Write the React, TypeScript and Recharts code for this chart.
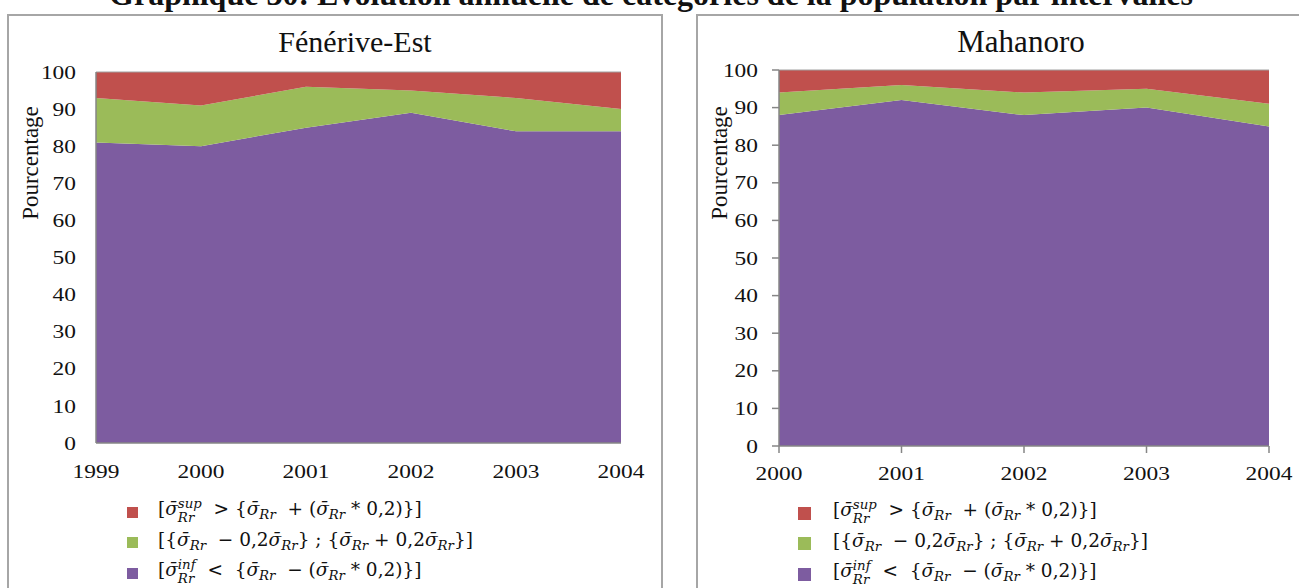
import React from 'react';
import { AreaChart, Area, XAxis, YAxis, ReferenceLine } from 'recharts';

// Fénérive-Est
const years1 = ['1999', '2000', '2001', '2002', '2003', '2004'];
const inf1 = [81, 80, 85, 89, 84, 84];
const mid1 = [12, 11, 11, 6, 9, 6];
const sup1 = [7, 9, 4, 5, 7, 10];

// Mahanoro
const years2 = ['2000', '2001', '2002', '2003', '2004'];
const inf2 = [88, 92, 88, 90, 85];
const mid2 = [6, 4, 6, 5, 6];
const sup2 = [6, 4, 6, 5, 9];

const yTicks = [0, 10, 20, 30, 40, 50, 60, 70, 80, 90, 100];

const mainTitle = 'Graphique 30: Evolution annuelle de catégories de la population par intervalles';
const title1 = 'Fénérive-Est';
const title2 = 'Mahanoro';
const yLabel = 'Pourcentage';

const RED = '#C0504D';
const GREEN = '#9BBB59';
const PURPLE = '#7D5CA0';
const AXIS = '#868686';
const FONT = '"Liberation Serif", "Times New Roman", serif';

const build = (years: string[], inf: number[], mid: number[], sup: number[]) =>
  years.map((y, i) => ({ year: y, inf: inf[i], mid: mid[i], sup: sup[i] }));

const data1 = build(years1, inf1, mid1, sup1);
const data2 = build(years2, inf2, mid2, sup2);

const SX = 1.2;
const TICK_FS = 19.5;

const YTick = (props: any) => {
  const { x, y, payload } = props;
  return (
    <text
      transform={`translate(${x},${y}) scale(${SX},1)`}
      x={0}
      y={0}
      dy="0.34em"
      textAnchor="end"
      style={{ fontFamily: FONT, fontSize: TICK_FS, fill: '#111' }}
    >
      {payload.value}
    </text>
  );
};

const XTick = (props: any) => {
  const { x, y, payload } = props;
  return (
    <text
      transform={`translate(${x},${y}) scale(${SX},1)`}
      x={0}
      y={0}
      dy="0.71em"
      textAnchor="middle"
      style={{ fontFamily: FONT, fontSize: TICK_FS, fill: '#111' }}
    >
      {payload.value}
    </text>
  );
};

const SIG = 'σ\u0304';

const Sig = ({ sup }: { sup?: string }) => (
  <span style={{ whiteSpace: 'nowrap' }}>
    <i>{SIG}</i>
    {sup ? (
      <span
        style={{
          display: 'inline-block',
          verticalAlign: '-0.5em',
          fontSize: '0.72em',
          lineHeight: '1.0',
          fontStyle: 'italic',
        }}
      >
        <span style={{ display: 'block' }}>{sup}</span>
        <span style={{ display: 'block' }}>Rr</span>
      </span>
    ) : (
      <span style={{ fontSize: '0.72em', verticalAlign: '-0.3em', fontStyle: 'italic' }}>Rr</span>
    )}
  </span>
);

const Row1 = () => (
  <span>
    [<Sig sup="sup" />{'  > {'}<Sig />{'  + ('}<Sig />{' * 0,2)}]'}
  </span>
);
const Row2 = () => (
  <span>
    {'[{'}<Sig />{'  − 0,2'}<Sig />{'} ; {'}<Sig />{' + 0,2'}<Sig />{'}]'}
  </span>
);
const Row3 = () => (
  <span>
    [<Sig sup="inf" />{'  <  {'}<Sig />{'  − ('}<Sig />{' * 0,2)}]'}
  </span>
);

const legendRows = [
  { color: RED, node: <Row1 /> },
  { color: GREEN, node: <Row2 /> },
  { color: PURPLE, node: <Row3 /> },
];

const Legend = ({ left, top, textLeft, sq }: { left: number; top: number; textLeft: number; sq: number }) => (
  <div style={{ position: 'absolute', left, top, fontFamily: '"DejaVu Serif", serif', fontSize: 18.5, color: '#111' }}>
    {legendRows.map((r, i) => (
      <div key={i} style={{ position: 'absolute', top: i * 30.5, left: 0, height: 30, width: 480 }}>
        <div style={{ position: 'absolute', left: 0, top: 15 - sq / 2, width: sq, height: sq, background: r.color }} />
        <div style={{ position: 'absolute', left: textLeft, top: 0, whiteSpace: 'pre', lineHeight: '24px' }}>{r.node}</div>
      </div>
    ))}
  </div>
);

const serif = (size: number, bold = false) => ({
  fontFamily: FONT,
  fontSize: size,
  fontWeight: bold ? 700 : 400,
  fill: '#111',
});

export default function App() {
  return (
    <div style={{ position: 'absolute', left: 0, top: 0, width: 1299, height: 588, overflow: 'hidden', background: '#fff', fontFamily: FONT }}>
      <div style={{ position: 'absolute', left: 7, top: 14, width: 652, height: 700, border: '2px solid #a6a6a6' }} />
      <div style={{ position: 'absolute', left: 696, top: 14, width: 700, height: 700, border: '2px solid #a6a6a6' }} />

      <div style={{ position: 'absolute', left: 0, top: 0 }}>
        <AreaChart width={660} height={490} data={data1} margin={{ top: 72, right: 39, bottom: 17, left: 36 }} style={{ fontFamily: FONT }}>
          <XAxis
            dataKey="year"
            height={30}
            tickLine={false}
            tickSize={6}
            tickMargin={15}
            axisLine={{ stroke: AXIS, strokeWidth: 1.5 }}
            tick={<XTick />}
            interval={0}
          />
          <YAxis
            width={60}
            domain={[0, 100]}
            ticks={yTicks}
            tickLine={false}
            tickSize={6}
            tickMargin={14}
            axisLine={{ stroke: AXIS, strokeWidth: 1.5 }}
            tick={<YTick />}
            interval={0}
          />
          <Area dataKey="inf" stackId="a" type="linear" fill={PURPLE} fillOpacity={1} stroke="none" isAnimationActive={false} />
          <Area dataKey="mid" stackId="a" type="linear" fill={GREEN} fillOpacity={1} stroke="none" isAnimationActive={false} />
          <Area dataKey="sup" stackId="a" type="linear" fill={RED} fillOpacity={1} stroke="none" isAnimationActive={false} />
          <ReferenceLine y={100} stroke="#a0a0a0" strokeWidth={1} />
        </AreaChart>
      </div>

      <div style={{ position: 'absolute', left: 690, top: 0 }}>
        <AreaChart width={609} height={490} data={data2} margin={{ top: 70, right: 30, bottom: 14, left: 29 }} style={{ fontFamily: FONT }}>
          <XAxis
            dataKey="year"
            height={30}
            tickLine={{ stroke: AXIS, strokeWidth: 1.5 }}
            tickSize={7}
            tickMargin={13}
            axisLine={{ stroke: AXIS, strokeWidth: 1.5 }}
            tick={<XTick />}
            interval={0}
          />
          <YAxis
            width={60}
            domain={[0, 100]}
            ticks={yTicks}
            tickLine={{ stroke: AXIS, strokeWidth: 1.5 }}
            tickSize={7}
            tickMargin={14}
            axisLine={{ stroke: AXIS, strokeWidth: 1.5 }}
            tick={<YTick />}
            interval={0}
          />
          <Area dataKey="inf" stackId="a" type="linear" fill={PURPLE} fillOpacity={1} stroke="none" isAnimationActive={false} />
          <Area dataKey="mid" stackId="a" type="linear" fill={GREEN} fillOpacity={1} stroke="none" isAnimationActive={false} />
          <Area dataKey="sup" stackId="a" type="linear" fill={RED} fillOpacity={1} stroke="none" isAnimationActive={false} />
          <ReferenceLine y={100} stroke="#a0a0a0" strokeWidth={1} />
        </AreaChart>
      </div>

      <svg width={1299} height={588} style={{ position: 'absolute', left: 0, top: 0, pointerEvents: 'none' }}>
        <text x={651} y={5} textAnchor="middle" style={serif(32, true)}>
          {mainTitle}
        </text>
        <text x={355} y={52} textAnchor="middle" style={serif(30)}>
          {title1}
        </text>
        <text x={1021} y={52} textAnchor="middle" style={serif(31)}>
          {title2}
        </text>
        <text x={38} y={163} textAnchor="middle" style={serif(23)} transform="rotate(-90 38 163)">
          {yLabel}
        </text>
        <text x={727} y={163} textAnchor="middle" style={serif(23)} transform="rotate(-90 727 163)">
          {yLabel}
        </text>
      </svg>

      <Legend left={127} top={497} textLeft={31} sq={11} />
      <Legend left={798} top={498} textLeft={35} sq={13} />
    </div>
  );
}
